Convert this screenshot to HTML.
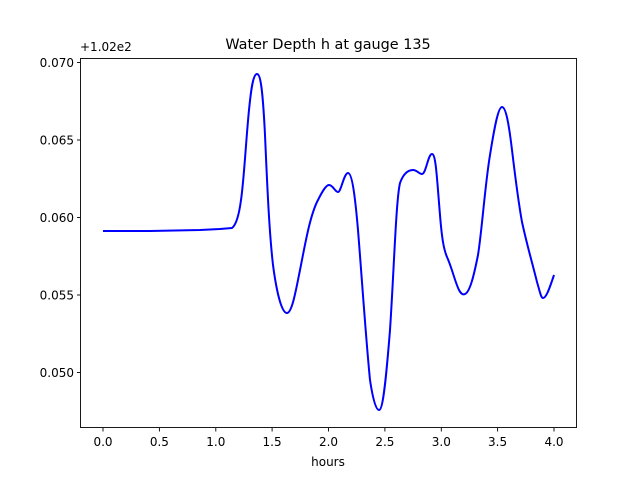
<!DOCTYPE html>
<html><head><style>body{margin:0;background:#fff}svg{display:block}</style></head><body>
<svg width="640" height="480" xmlns="http://www.w3.org/2000/svg" font-family="DejaVu Sans, Liberation Sans, sans-serif">
<rect width="640" height="480" fill="#fff"/>
<text x="328" y="49" font-size="14.4" text-anchor="middle" fill="#000">Water Depth h at gauge 135</text>
<text x="80" y="51" font-size="12" fill="#000">+1.02e2</text>
<path d="M103,231 L150,231 L200,230 L220,229 L232,228 C236,225 239,215 241,200 C244,180 246,140 249,110 C251,90 253,74 257,74 C261,74 263,95 265,135 C267,180 269,230 273,265 C277,295 282,313 287,313 C292,313 296,290 300,270 C305,245 310,215 318,200 C322,192 326,185 329,185 C333,185 335,192 338,192 C341,192 344,173 348,173 C352,173 355,195 358,230 C362,280 366,340 370,380 C373,400 376,410 379,410 C383,410 386,380 390,330 C394,270 396,200 400,183 C404,172 409,170 413,170 C417,170 419,174 422,174 C426,174 428,154 432,154 C436,154 437,180 440,215 C442,240 444,250 447,257 C452,268 455,282 459,290 C461,294 463,295 465,294 C470,292 474,275 478,255 C482,230 485,185 490,155 C494,130 498,107 502,107 C506,107 509,125 512,150 C515,175 518,200 522,222 C527,245 532,262 537,282 C540,292 541,298 543,298 C546,298 549,290 554,275" fill="none" stroke="#0000ff" stroke-width="2" stroke-linejoin="round"/>
<rect x="80.5" y="58.5" width="496" height="369" fill="none" stroke="#000" stroke-width="0.9"/>
<g stroke="#000" stroke-width="0.9">
<line x1="103" y1="428" x2="103" y2="431.5"/><line x1="159.4" y1="428" x2="159.4" y2="431.5"/><line x1="215.8" y1="428" x2="215.8" y2="431.5"/><line x1="272.1" y1="428" x2="272.1" y2="431.5"/><line x1="328.5" y1="428" x2="328.5" y2="431.5"/><line x1="384.9" y1="428" x2="384.9" y2="431.5"/><line x1="441.3" y1="428" x2="441.3" y2="431.5"/><line x1="497.6" y1="428" x2="497.6" y2="431.5"/><line x1="554" y1="428" x2="554" y2="431.5"/>
<line x1="77" y1="62.5" x2="80.5" y2="62.5"/><line x1="77" y1="140" x2="80.5" y2="140"/><line x1="77" y1="217.5" x2="80.5" y2="217.5"/><line x1="77" y1="295" x2="80.5" y2="295"/><line x1="77" y1="372.5" x2="80.5" y2="372.5"/>
</g>
<g font-size="12" fill="#000" text-anchor="middle">
<text x="103" y="446">0.0</text><text x="159.4" y="446">0.5</text><text x="215.8" y="446">1.0</text><text x="272.1" y="446">1.5</text><text x="328.5" y="446">2.0</text><text x="384.9" y="446">2.5</text><text x="441.3" y="446">3.0</text><text x="497.6" y="446">3.5</text><text x="554" y="446">4.0</text>
<text x="328" y="466">hours</text>
</g>
<g font-size="12" fill="#000" text-anchor="end">
<text x="74" y="67">0.070</text><text x="74" y="144.5">0.065</text><text x="74" y="222">0.060</text><text x="74" y="299.5">0.055</text><text x="74" y="377">0.050</text>
</g>
</svg>
</body></html>
